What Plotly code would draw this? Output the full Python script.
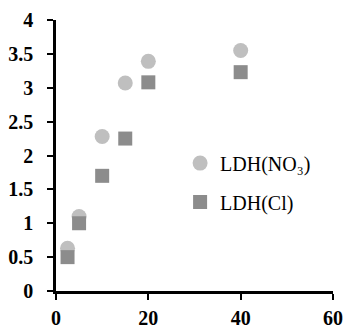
import plotly.graph_objects as go

x_no3 = [2.5, 5, 10, 15, 20, 40]
y_no3 = [0.63, 1.1, 2.28, 3.07, 3.39, 3.55]
x_cl = [2.5, 5, 10, 15, 20, 40]
y_cl = [0.5, 1.0, 1.7, 2.25, 3.08, 3.23]
x_ticks = [0, 20, 40, 60]
x_tick_text = ["0", "20", "40", "60"]
y_ticks = [0, 0.5, 1, 1.5, 2, 2.5, 3, 3.5, 4]
y_tick_text = ["0", "0.5", "1", "1.5", "2", "2.5", "3", "3.5", "4"]

fig = go.Figure()
fig.add_trace(go.Scatter(x=x_no3, y=y_no3, mode="markers", name="LDH(NO₃)",
                         legendgroup="a",
                         marker=dict(symbol="circle", size=15, color="#bfbfbf", line=dict(width=0))))
fig.add_trace(go.Scatter(x=x_cl, y=y_cl, mode="markers", name="LDH(Cl)",
                         legendgroup="b",
                         marker=dict(symbol="square", size=14, color="#8c8c8c", line=dict(width=0))))

tickfont = dict(family="Liberation Serif", size=20, color="black")
fig.update_layout(
    width=347, height=331,
    margin=dict(l=56, r=14, t=20, b=40, autoexpand=False),
    plot_bgcolor="white", paper_bgcolor="white",
    showlegend=True,
    legend=dict(x=0.448, y=0.40, xanchor="left", yanchor="middle",
                font=dict(family="Liberation Serif", size=20, color="black"),
                bgcolor="rgba(0,0,0,0)", traceorder="grouped", tracegroupgap=10,
                itemwidth=30),
    xaxis=dict(range=[0, 60], tickvals=x_ticks, ticktext=["<b>%s</b>" % t for t in x_tick_text],
               ticks="outside", ticklen=6, tickwidth=2, automargin=False,
               tickcolor="black", showline=True, linecolor="black", linewidth=2.5,
               showgrid=False, zeroline=False, tickfont=tickfont, ticklabelstandoff=1),
    yaxis=dict(range=[0, 4], tickvals=y_ticks, ticktext=["<b>%s</b>" % t for t in y_tick_text],
               ticks="outside", automargin=False,
               ticklen=6, tickwidth=2, tickcolor="black", showline=True, linecolor="black",
               linewidth=2.5, showgrid=False, zeroline=False, tickfont=tickfont,
               ticklabelstandoff=10),
)
fig.write_html("out.html")
